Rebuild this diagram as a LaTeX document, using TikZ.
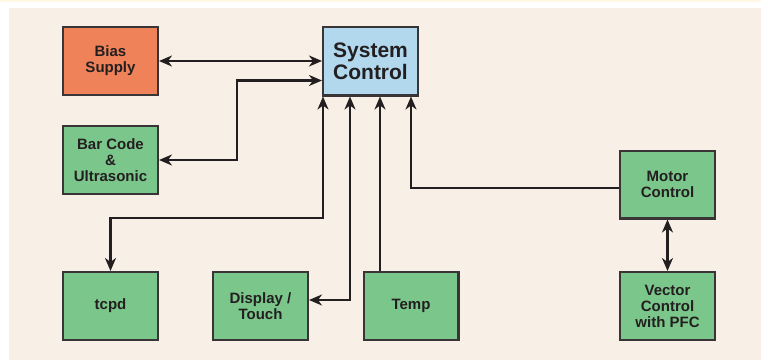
\documentclass[tikz,border=0pt]{standalone}
\usepackage{fontspec}
\setmainfont{Liberation Sans}
\usepackage{tikz}
\usetikzlibrary{arrows.meta, calc}
\usepackage{xcolor}
\definecolor{mCream}{HTML}{F8F0E6}
\definecolor{mStrip}{HTML}{FFF8E2}
\definecolor{mGreen}{HTML}{7BC68A}
\definecolor{mOrange}{HTML}{F08259}
\definecolor{mBlue}{HTML}{B2D8EE}
\definecolor{mInk}{HTML}{231F20}

\begin{document}
\begin{tikzpicture}[x=1pt, y=-1pt, >={Stealth[length=13pt, width=11pt, inset=4pt]},
  block/.style={draw=mInk!90, line width=2.4pt, fill=mGreen, minimum width=94.6pt,
                minimum height=67.6pt, inner sep=0pt, align=center, text=mInk,
                font=\fontsize{15}{16}\selectfont\bfseries},
  link/.style={line width=2.1pt, draw=mInk}]
  \useasboundingbox (0,0) rectangle (761,360);
  \fill[white] (0,0) rectangle (761,360);
  \fill[mStrip] (0,0) rectangle (761,1.5);
  \fill[mCream] (9,8) rectangle (761,360);
  % blocks
  \node[block, fill=mOrange] (bias) at (110.5,61) {Bias\\Supply};
  \node[block] (bar) at (110.5,160) {Bar Code\\\&\\Ultrasonic};
  \node[block, fill=mBlue, minimum height=68.6pt,
        font=\fontsize{21}{22}\selectfont\bfseries] (sys) at (370.5,61) {System\\Control};
  \node[block] (motor) at (667.5,184.5) {Motor\\Control};
  \node[block] (tcpd) at (110.5,306) {tcpd};
  \node[block] (disp) at (260.5,306) {Display /\\Touch};
  \node[block] (temp) at (411,306) {Temp};
  \node[block] (vec) at (667.5,306) {Vector\\Control\\with PFC};
  % inputs on the bottom of system control
  \coordinate (in1) at ([xshift=1pt]sys.south west);
  \coordinate (in2) at ([xshift=28pt]sys.south west);
  \coordinate (in3) at ([xshift=58pt]sys.south west);
  \coordinate (in4) at ([xshift=89pt]sys.south west);
  % links
  \draw[link, <->] (bias.east) -- (bias.east -| sys.west);
  \draw[link, <->] (bar.east) -- ++(78,0) |- ([yshift=-19.5pt]sys.west);
  \draw[link, <->] (tcpd.north) |- (in1 |- 0,218) -- (in1);
  \draw[link, <->] ([yshift=6pt]disp.east) -| (in2);
  \draw[link, ->] (temp.north -| in3) -- (in3);
  \draw[link, ->] ([yshift=-3.5pt]motor.west) -| (in4);
  \draw[link, <->] (motor) -- (vec);
\end{tikzpicture}
\end{document}
